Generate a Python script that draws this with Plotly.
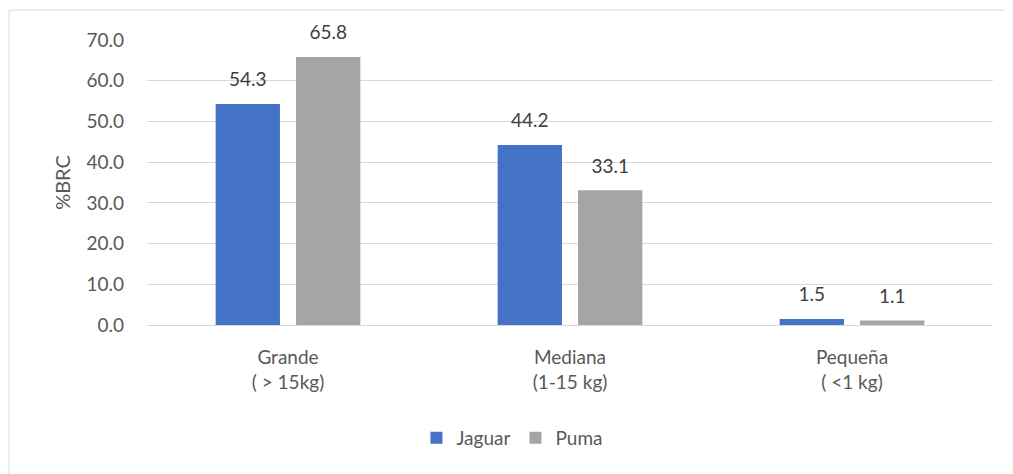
import plotly.graph_objects as go

categories = ['Grande<br>( > 15kg)', 'Mediana<br>(1-15 kg)', 'Pequeña<br>( <1 kg)']
jaguar = [54.3, 44.2, 1.5]
puma = [65.8, 33.1, 1.1]
y_ticks = [0, 10, 20, 30, 40, 50, 60, 70]

FONT = 'Lato, Open Sans, sans-serif'
GREY_TEXT = '#595959'

fig = go.Figure()
for name, values, color in [('Jaguar', jaguar, '#4472C4'), ('Puma', puma, '#A5A5A5')]:
    fig.add_trace(go.Bar(
        x=categories, y=values, name=name,
        marker={'color': color, 'line': {'width': 0}},
        offsetgroup=name, alignmentgroup='g',
    ))
# value labels as grouped text-only scatter, so they can sit higher above the bars
for name, values in [('Jaguar', jaguar), ('Puma', puma)]:
    fig.add_trace(go.Scatter(
        x=categories, y=values, mode='text+markers',
        marker={'size': 19, 'opacity': 0},
        text=[f'{v:.1f}' for v in values], textposition='top center',
        textfont={'size': 19, 'color': '#404040'},
        offsetgroup=name, alignmentgroup='g',
        showlegend=False, hoverinfo='skip', cliponaxis=False,
    ))

fig.update_layout(
    width=1013, height=474,
    margin={'l': 139, 'r': 28, 't': 32, 'b': 157},
    paper_bgcolor='white', plot_bgcolor='white',
    font={'family': FONT, 'size': 19, 'color': GREY_TEXT},
    barmode='group', bargap=0.43, bargroupgap=0.2,
    scattermode='group', scattergap=0.43,
    showlegend=True,
    legend={
        'orientation': 'h', 'xref': 'container', 'x': 0.498, 'xanchor': 'center',
        'yref': 'container', 'y': 0.093, 'yanchor': 'middle',
        'font': {'size': 19, 'color': GREY_TEXT}, 'itemwidth': 30,
        'traceorder': 'normal',
    },
    xaxis={
        'showgrid': False, 'showline': False, 'ticks': '',
        'tickfont': {'size': 19, 'color': GREY_TEXT},
        'ticklabelstandoff': 19,
    },
    yaxis={
        'range': [0, 70], 'tickvals': y_ticks, 'tickformat': '.1f',
        'showgrid': True, 'gridcolor': '#D9D9D9', 'gridwidth': 1,
        'zeroline': True, 'zerolinecolor': '#D9D9D9', 'zerolinewidth': 1,
        'showline': False, 'ticks': '',
        'tickfont': {'size': 19, 'color': GREY_TEXT},
        'ticklabelstandoff': 22,
        'title': {'text': '%BRC', 'font': {'size': 20, 'color': GREY_TEXT}, 'standoff': 10},
    },
    shapes=[{
        'type': 'rect', 'xref': 'paper', 'yref': 'paper',
        'x0': -0.163, 'x1': 1.2, 'y0': -0.7, 'y1': 1.105,
        'line': {'color': '#D9D9D9', 'width': 1}, 'layer': 'below',
    }],
)

fig.write_html('out.html')
